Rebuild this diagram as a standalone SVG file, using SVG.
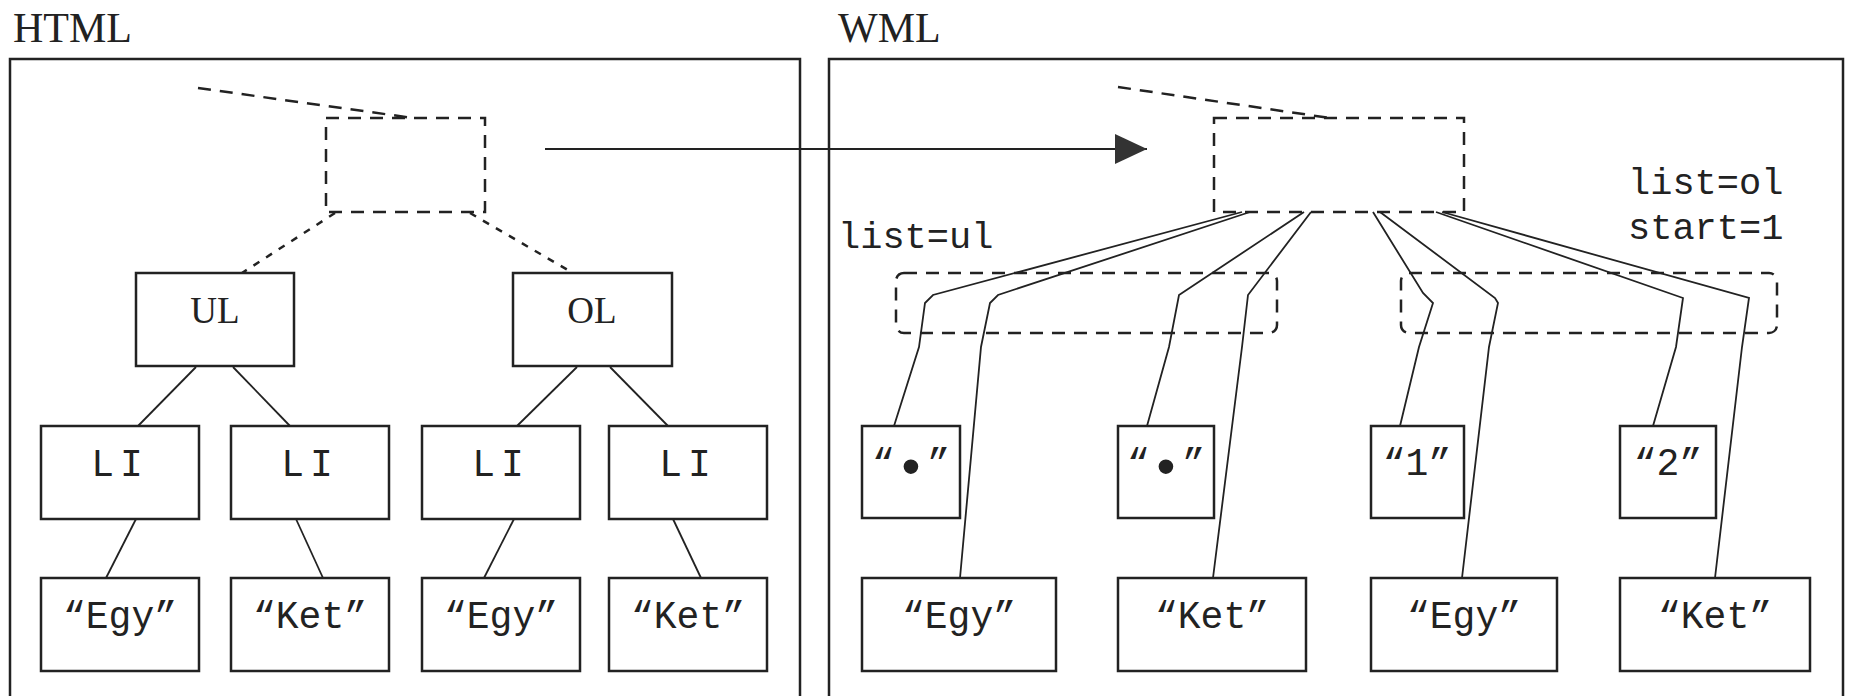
<svg xmlns="http://www.w3.org/2000/svg" width="1853" height="696" viewBox="0 0 1853 696">
<defs>
<style>
.panel{fill:none;stroke:#222;stroke-width:2.5}
.box{fill:#fff;stroke:#222;stroke-width:2.5}
.dbox{fill:none;stroke:#222;stroke-width:2.5;stroke-dasharray:13 9}
.dline{fill:none;stroke:#222;stroke-width:2.5;stroke-dasharray:13 9}
.dsmall{fill:none;stroke:#222;stroke-width:2.5;stroke-dasharray:7 8}
.ln{fill:none;stroke:#222;stroke-width:1.8}
.title{font-family:"Liberation Serif","Times New Roman",serif;font-size:42px;fill:#222}
.serif{font-family:"Liberation Serif","Times New Roman",serif;font-size:37px;fill:#222;text-anchor:middle}
.mono{font-family:"Liberation Mono","DejaVu Sans Mono","Courier New",monospace;font-size:38px;fill:#222;text-anchor:middle}
.lab{font-family:"Liberation Mono","DejaVu Sans Mono","Courier New",monospace;font-size:37px;fill:#222}
.dot{font-size:54px}
</style>
<marker id="arrow" viewBox="0 0 32 30" refX="32" refY="15" markerWidth="32" markerHeight="30" markerUnits="userSpaceOnUse" orient="auto">
<path d="M0,0 L32,15 L0,30 z" fill="#333"/>
</marker>
</defs>
<rect width="1853" height="696" fill="#fff"/>

<g id="html-panel">
<text class="title" x="13" y="42">HTML</text>
<rect class="panel" x="10" y="59" width="790" height="660"/>
</g>
<g id="wml-panel">
<text class="title" x="838" y="42">WML</text>
<rect class="panel" x="829" y="59" width="1014" height="660"/>
</g>

<g id="connectors">
<line class="ln" x1="545" y1="149" x2="1147" y2="149" stroke-width="3" marker-end="url(#arrow)"/>
<line class="dline" x1="198" y1="88" x2="413" y2="118"/>
<line class="dline" x1="1118" y1="87" x2="1330" y2="118"/>
<line class="dsmall" x1="335" y1="213" x2="242" y2="273"/>
<line class="dsmall" x1="470" y1="213" x2="573" y2="273"/>
<line class="ln" x1="196" y1="367" x2="138" y2="426"/>
<line class="ln" x1="233" y1="367" x2="290" y2="426"/>
<line class="ln" x1="577" y1="367" x2="517" y2="426"/>
<line class="ln" x1="610" y1="367" x2="668" y2="426"/>
<line class="ln" x1="136" y1="519" x2="106" y2="578"/>
<line class="ln" x1="296" y1="519" x2="323" y2="578"/>
<line class="ln" x1="514" y1="519" x2="484" y2="578"/>
<line class="ln" x1="673" y1="519" x2="701" y2="578"/>
<polyline class="ln" points="1242,212 933,295 925,303 919,347 894,426"/>
<polyline class="ln" points="1250,212 998,295 990,303 981,347 960,578"/>
<polyline class="ln" points="1304,212 1179,295 1169,347 1147,426"/>
<polyline class="ln" points="1311,212 1248,295 1242,347 1213,578"/>
<polyline class="ln" points="1373,212 1423,293 1433,303 1419,347 1400,426"/>
<polyline class="ln" points="1380,212 1495,298 1498,303 1489,347 1462,578"/>
<polyline class="ln" points="1436,212 1683,298 1676,347 1653,426"/>
<polyline class="ln" points="1442,212 1749,298 1742,347 1715,578"/>
</g>

<g id="html-root"><rect class="dbox" x="326" y="118" width="159" height="94"/></g>
<g id="ul"><rect class="box" x="136" y="273" width="158" height="93"/><text class="serif" x="215" y="323">UL</text></g>
<g id="ol"><rect class="box" x="513" y="273" width="159" height="93"/><text class="serif" x="592" y="323">OL</text></g>
<g id="li1"><rect class="box" x="41" y="426" width="158" height="93"/><text class="mono" x="120" y="476" letter-spacing="6">LI</text></g>
<g id="li2"><rect class="box" x="231" y="426" width="158" height="93"/><text class="mono" x="310" y="476" letter-spacing="6">LI</text></g>
<g id="li3"><rect class="box" x="422" y="426" width="158" height="93"/><text class="mono" x="501" y="476" letter-spacing="6">LI</text></g>
<g id="li4"><rect class="box" x="609" y="426" width="158" height="93"/><text class="mono" x="688" y="476" letter-spacing="6">LI</text></g>
<g id="h-egy1"><rect class="box" x="41" y="578" width="158" height="93"/><text class="mono" x="120" y="628">“Egy”</text></g>
<g id="h-ket1"><rect class="box" x="231" y="578" width="158" height="93"/><text class="mono" x="310" y="628">“Ket”</text></g>
<g id="h-egy2"><rect class="box" x="422" y="578" width="158" height="93"/><text class="mono" x="501" y="628">“Egy”</text></g>
<g id="h-ket2"><rect class="box" x="609" y="578" width="158" height="93"/><text class="mono" x="688" y="628">“Ket”</text></g>

<g id="wml-root"><rect class="dbox" x="1214" y="118" width="250" height="94"/></g>
<g id="group-ul"><rect class="dbox" x="896" y="273" width="381" height="60" rx="8"/><text class="lab" x="838" y="248">list=ul</text></g>
<g id="group-ol"><rect class="dbox" x="1401" y="273" width="376" height="60" rx="8"/><text class="lab" x="1628" y="194">list=ol</text><text class="lab" x="1628" y="239">start=1</text></g>
<g id="w-b1"><rect class="box" x="862" y="426" width="98" height="92"/><text class="mono" x="911" y="475">“<tspan class="dot" dy="10">•</tspan><tspan dy="-10">”</tspan></text></g>
<g id="w-b2"><rect class="box" x="1118" y="426" width="96" height="92"/><text class="mono" x="1166" y="475">“<tspan class="dot" dy="10">•</tspan><tspan dy="-10">”</tspan></text></g>
<g id="w-n1"><rect class="box" x="1371" y="426" width="93" height="92"/><text class="mono" x="1417" y="475">“1”</text></g>
<g id="w-n2"><rect class="box" x="1620" y="426" width="96" height="92"/><text class="mono" x="1668" y="475">“2”</text></g>
<g id="w-egy1"><rect class="box" x="862" y="578" width="194" height="93"/><text class="mono" x="959" y="628">“Egy”</text></g>
<g id="w-ket1"><rect class="box" x="1118" y="578" width="188" height="93"/><text class="mono" x="1212" y="628">“Ket”</text></g>
<g id="w-egy2"><rect class="box" x="1371" y="578" width="186" height="93"/><text class="mono" x="1464" y="628">“Egy”</text></g>
<g id="w-ket2"><rect class="box" x="1620" y="578" width="190" height="93"/><text class="mono" x="1715" y="628">“Ket”</text></g>
</svg>
